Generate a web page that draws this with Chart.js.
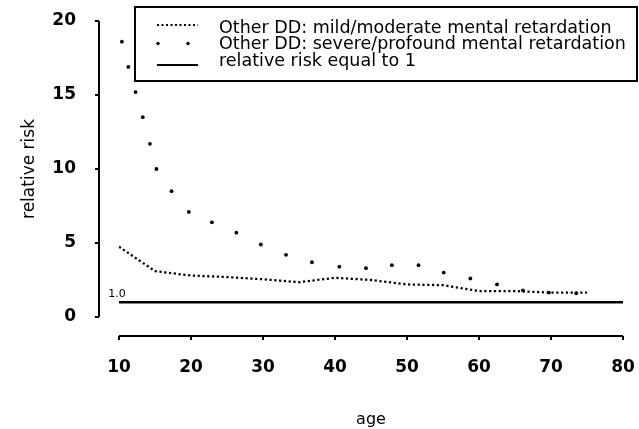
<!DOCTYPE html>
<html>
<head>
<meta charset="utf-8">
<script src="https://cdn.jsdelivr.net/npm/chart.js@4/dist/chart.umd.min.js"></script>
<style>
  html, body { margin: 0; padding: 0; background: #fff; }
  #wrap { width: 639px; height: 429px; }
</style>
</head>
<body>
<div id="wrap"><canvas id="riskChart" width="639" height="429"></canvas></div>
<script>
// tick labels
const xTicks = [10, 20, 30, 40, 50, 60, 70, 80];
const yTicks = [0, 5, 10, 15, 20];

// mild/moderate mental retardation (dense dotted curve)
const mildAges   = [10, 15, 20, 25, 30, 35, 40, 45, 50, 55, 60, 65, 70, 75];
const mildRisk   = [4.75, 3.1, 2.8, 2.7, 2.55, 2.35, 2.65, 2.5, 2.2, 2.15, 1.75, 1.75, 1.65, 1.65];

// severe/profound mental retardation (sparse dots)
const severeAges = [10.4, 11.3, 12.3, 13.3, 14.3, 15.2, 17.3, 19.7, 22.9, 26.3, 29.7, 33.2,
                    36.8, 40.6, 44.3, 47.9, 51.6, 55.1, 58.8, 62.5, 66.1, 69.7, 73.5];
const severeRisk = [18.6, 16.9, 15.2, 13.5, 11.7, 10.0, 8.5, 7.1, 6.4, 5.7, 4.9, 4.2,
                    3.7, 3.4, 3.3, 3.5, 3.5, 3.0, 2.6, 2.2, 1.8, 1.65, 1.6];

// reference line
const refAges = [10, 80];
const refRisk = [1, 1];

const seriesLabels = [
  'Other DD: mild/moderate mental retardation',
  'Other DD: severe/profound mental retardation',
  'relative risk equal to 1'
];

const toPoints = (xs, ys) => xs.map((v, i) => ({ x: v, y: ys[i] }));

// Axes are drawn detached from the plot (S-style), plus a boxed legend
const framePlugin = {
  id: 'frame',
  afterDraw(chart) {
    const { ctx, scales: { x, y } } = chart;
    ctx.save();
    ctx.strokeStyle = '#000';
    ctx.fillStyle = '#000';
    ctx.lineWidth = 2;

    // y axis
    const yAxisX = x.left - 20;
    ctx.beginPath();
    ctx.moveTo(yAxisX, y.getPixelForValue(yTicks[yTicks.length - 1]));
    ctx.lineTo(yAxisX, y.getPixelForValue(yTicks[0]));
    yTicks.forEach(v => {
      const py = y.getPixelForValue(v);
      ctx.moveTo(yAxisX, py);
      ctx.lineTo(yAxisX - 4, py);
    });
    ctx.stroke();

    // x axis
    const xAxisY = y.bottom + 19;
    ctx.beginPath();
    ctx.moveTo(x.getPixelForValue(xTicks[0]), xAxisY);
    ctx.lineTo(x.getPixelForValue(xTicks[xTicks.length - 1]), xAxisY);
    xTicks.forEach(v => {
      const px = x.getPixelForValue(v);
      ctx.moveTo(px, xAxisY);
      ctx.lineTo(px, xAxisY + 4);
    });
    ctx.stroke();

    // "1.0" note above the reference line
    ctx.font = '11px "DejaVu Sans"';
    ctx.textAlign = 'center';
    ctx.textBaseline = 'bottom';
    ctx.fillText('1.0', x.getPixelForValue(10) - 2, y.getPixelForValue(1) - 3);

    // legend box
    const box = { left: 135, top: 7, right: 637, bottom: 81 };
    ctx.lineWidth = 2;
    ctx.strokeRect(box.left, box.top, box.right - box.left, box.bottom - box.top);
    const rows = [28, 44.5, 61];
    const sx0 = 157, sx1 = 198, tx = 219;
    ctx.font = '17.5px "DejaVu Sans"';
    ctx.textAlign = 'left';
    ctx.textBaseline = 'middle';
    chart.data.datasets.forEach((ds, i) => {
      const ry = rows[i];
      if (i === 0) {
        ctx.setLineDash([2, 2.5]);
        ctx.lineWidth = 2;
        ctx.beginPath(); ctx.moveTo(sx0, ry - 3); ctx.lineTo(sx1, ry - 3); ctx.stroke();
        ctx.setLineDash([]);
      } else if (i === 1) {
        [sx0 + 1, sx0 + 31].forEach(px => {
          ctx.beginPath(); ctx.arc(px, ry - 1, 1.7, 0, Math.PI * 2); ctx.fill();
        });
      } else {
        ctx.lineWidth = 2;
        ctx.beginPath(); ctx.moveTo(sx0, ry + 4); ctx.lineTo(sx1, ry + 4); ctx.stroke();
      }
      ctx.fillText(ds.label, tx, ry);
    });
    ctx.restore();
  }
};

new Chart(document.getElementById('riskChart'), {
  type: 'scatter',
  data: {
    datasets: [
      {
        label: seriesLabels[0],
        data: toPoints(mildAges, mildRisk),
        showLine: true,
        borderColor: '#000',
        borderWidth: 2.3,
        borderDash: [2.2, 2.6],
        pointRadius: 0,
        tension: 0
      },
      {
        label: seriesLabels[1],
        data: toPoints(severeAges, severeRisk),
        showLine: false,
        backgroundColor: '#000',
        borderColor: '#000',
        pointRadius: 1.9,
        pointBorderWidth: 0
      },
      {
        label: seriesLabels[2],
        data: toPoints(refAges, refRisk),
        showLine: true,
        borderColor: '#000',
        borderWidth: 2.4,
        pointRadius: 0
      }
    ]
  },
  options: {
    responsive: false,
    animation: false,
    layout: { padding: { left: 19, right: 16, top: 21, bottom: 0 } },
    plugins: {
      legend: { display: false },
      tooltip: { enabled: false }
    },
    scales: {
      x: {
        type: 'linear',
        min: 10,
        max: 80,
        grid: { display: false },
        border: { display: false },
        afterFit: (scale) => {
          scale.height = 112;
          scale.paddingLeft = 0;
          scale.paddingRight = 0;
        },
        ticks: {
          stepSize: 10,
          padding: 32,
          color: '#000',
          font: { family: 'DejaVu Sans', size: 17, weight: 'bold' }
        },
        title: {
          display: true,
          text: 'age',
          color: '#000',
          padding: 0,
          font: { family: 'DejaVu Sans', size: 16 }
        }
      },
      y: {
        min: 0,
        max: 20,
        grid: { display: false },
        border: { display: false },
        afterFit: (scale) => {
          scale.width = 100;
          scale.paddingTop = 0;
          scale.paddingBottom = 0;
        },
        ticks: {
          stepSize: 5,
          padding: 35,
          color: '#000',
          font: { family: 'DejaVu Sans', size: 17, weight: 'bold' }
        },
        title: {
          display: true,
          text: 'relative risk',
          color: '#000',
          padding: 0,
          font: { family: 'DejaVu Sans', size: 17 }
        }
      }
    }
  },
  plugins: [framePlugin]
});
</script>
</body>
</html>
